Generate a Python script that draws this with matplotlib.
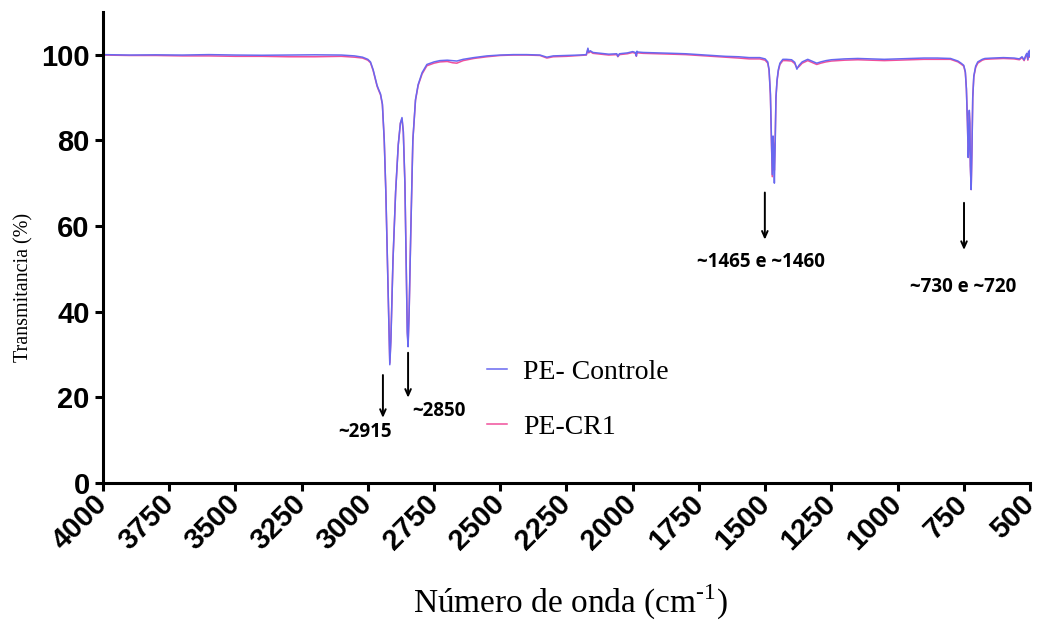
import matplotlib
matplotlib.use("Agg")
import matplotlib.pyplot as plt

plt.rcParams['mathtext.fontset'] = 'custom'
plt.rcParams['mathtext.rm'] = 'Liberation Serif'

# ---------------- data ----------------
wavenumber = [
    4000, 3900, 3800, 3700, 3600, 3500, 3400, 3300, 3200, 3100, 3050, 3020, 3000, 2990,
    2980, 2972, 2965, 2960, 2952, 2945, 2938, 2932, 2926, 2921, 2917, 2913, 2905, 2895,
    2885, 2877, 2871, 2866, 2860, 2855, 2851, 2848, 2844, 2838, 2830, 2820, 2810, 2795,
    2777, 2750, 2728, 2700, 2680, 2664, 2640, 2600, 2550, 2500, 2450, 2400, 2350, 2324,
    2300, 2250, 2200, 2175, 2169, 2166, 2160, 2150, 2120, 2090, 2060, 2056, 2050, 2020,
    2000, 1990, 1986, 1984, 1980, 1960, 1900, 1850, 1800, 1750, 1700, 1650, 1600, 1560,
    1520, 1500, 1490, 1485, 1480, 1476, 1473, 1470, 1468, 1465, 1462, 1459, 1455, 1450,
    1444, 1433, 1420, 1400, 1388, 1380, 1372, 1360, 1339, 1320, 1305, 1290, 1270, 1250,
    1200, 1150, 1100, 1050, 1000, 950, 900, 850, 800, 772, 760, 750, 744, 740, 736, 733,
    731, 729, 727, 725, 722, 719, 716, 712, 705, 697, 680, 670, 640, 600, 560, 540, 530,
    522, 516, 512, 508, 505, 502, 500]

pe_controle = [
    100.0, 99.9, 99.95, 99.9, 100.0, 99.9, 99.85, 99.9, 99.95, 99.9, 99.7, 99.4, 98.9, 98.3,
    96.5, 94.5, 92.8, 92.0, 90.8, 88.5, 80.0, 68.0, 52.0, 38.0, 27.6, 33.0, 52.0, 68.0,
    79.0, 84.0, 85.3, 82.0, 70.0, 50.0, 35.0, 31.8, 40.0, 58.0, 80.0, 89.5, 93.0, 95.8,
    97.7, 98.3, 98.6, 98.7, 98.6, 98.5, 98.9, 99.3, 99.7, 99.9, 100.0, 100.0, 99.9, 99.4,
    99.7, 99.8, 99.9, 100.0, 101.5, 100.6, 100.9, 100.5, 100.3, 100.1, 100.2, 99.6, 100.2, 100.4,
    100.7, 100.5, 99.7, 100.8, 100.6, 100.5, 100.4, 100.3, 100.2, 100.0, 99.8, 99.6, 99.5, 99.3,
    99.3, 99.0, 98.3, 96.5, 91.0, 80.0, 72.0, 81.0, 78.0, 70.0, 79.0, 90.0, 94.0, 96.5,
    98.0, 98.9, 98.9, 98.8, 98.2, 96.6, 97.5, 98.3, 98.9, 98.4, 98.0, 98.3, 98.6, 98.8,
    99.0, 99.1, 99.0, 98.9, 99.0, 99.1, 99.2, 99.2, 99.1, 98.5, 98.0, 97.5, 96.0, 92.0, 84.0, 76.0,
    79.0, 87.0, 84.0, 74.0, 68.5, 78.0, 90.0, 95.0, 97.3, 98.3, 98.9, 99.1, 99.2, 99.3, 99.2, 99.0, 99.5,
    98.8, 99.8, 100.3, 98.9, 100.8, 99.6, 101.0]

pe_cr1 = [
    99.9, 99.8, 99.8, 99.7, 99.7, 99.6, 99.6, 99.5, 99.5, 99.6, 99.4, 99.2, 98.7, 98.1,
    96.3, 94.3, 92.6, 91.8, 90.6, 88.3, 80.0, 68.0, 52.0, 38.0, 28.0, 33.5, 52.0, 68.0,
    79.0, 84.0, 85.0, 82.0, 70.0, 50.0, 35.5, 32.3, 40.0, 58.0, 80.0, 89.3, 92.8, 95.5,
    97.4, 98.0, 98.3, 98.4, 98.1, 98.0, 98.6, 99.1, 99.5, 99.8, 99.9, 99.9, 99.8, 99.2,
    99.5, 99.6, 99.8, 99.9, 101.2, 100.4, 100.7, 100.3, 100.1, 99.9, 100.0, 99.5, 100.0, 100.2,
    100.5, 100.3, 99.6, 100.5, 100.4, 100.3, 100.2, 100.1, 100.0, 99.8, 99.6, 99.4, 99.2, 99.0,
    99.0, 98.7, 98.0, 96.3, 90.5, 79.0, 71.5, 80.0, 79.0, 73.0, 80.0, 90.0, 93.8, 96.2,
    97.7, 98.6, 98.6, 98.5, 97.9, 96.9, 97.2, 98.0, 98.6, 98.1, 97.7, 98.0, 98.3, 98.5,
    98.7, 98.8, 98.7, 98.6, 98.7, 98.8, 98.9, 98.9, 98.9, 98.3, 97.8, 97.3, 95.8, 92.0, 84.0, 76.0,
    79.0, 86.5, 84.0, 74.0, 68.5, 78.0, 90.0, 94.8, 97.0, 98.0, 98.7, 98.9, 99.0, 99.1, 99.0, 98.8, 99.3,
    98.6, 99.6, 100.1, 98.7, 100.6, 99.4, 100.8]

series_labels = ['PE- Controle', 'PE-CR1']
series_colors = ['#6868F0', '#F0509B']

annotation_texts = ['~2915', '~2850', '~1465 e ~1460', '~730 e ~720']
annotation_text_xy = [(3011, 11.9), (2733, 16.7), (1514, 51.6), (751, 45.7)]
arrow_x = [2943, 2848, 1501, 749]
arrow_top = [25.2, 30.4, 67.8, 65.4]
arrow_bottom = [15.2, 19.9, 56.8, 54.4]

xticks = [4000, 3750, 3500, 3250, 3000, 2750, 2500, 2250, 2000, 1750, 1500, 1250, 1000, 750, 500]
yticks = [0, 20, 40, 60, 80, 100]

# ---------------- figure ----------------
fig = plt.figure(figsize=(10.39, 6.2), dpi=100)
ax = fig.add_axes([0.0991, 0.221, 0.8922, 0.760])

l2, = ax.plot(wavenumber, pe_cr1, color=series_colors[1], lw=1.1, label=series_labels[1])
l1, = ax.plot(wavenumber, pe_controle, color=series_colors[0], lw=1.1, label=series_labels[0])

ax.set_xlim(4000, 500)
ax.set_ylim(0, 110)
ax.set_xticks(xticks)
ax.set_yticks(yticks)

for s in ['top', 'right']:
    ax.spines[s].set_visible(False)
for s in ['left', 'bottom']:
    ax.spines[s].set_linewidth(2.2)
ax.tick_params(axis='both', direction='out', length=6, width=2.2)
ax.tick_params(axis='x', pad=6)

tick_font = dict(family='Liberation Sans', weight='bold', size=21)
ax.set_yticklabels([str(v) for v in yticks], fontdict=tick_font)
ax.set_xticklabels([str(v) for v in xticks], fontdict=tick_font,
                   rotation=45, ha='right', va='center', rotation_mode='anchor')

ax.set_ylabel('Transmitancia (%)', family='Liberation Serif', fontsize=14.5)
ax.yaxis.set_label_coords(-0.075, 0.414)
ax.set_xlabel('Número de onda (cm$^{\\text{-1}}$)', family='Liberation Serif', fontsize=24)
ax.xaxis.set_label_coords(0.504, -0.212)

leg = ax.legend(handles=[l1, l2], loc='upper left', bbox_to_anchor=(0.414, 0.262),
                frameon=False, borderpad=0, borderaxespad=0,
                prop=dict(family='Liberation Serif', size=20),
                handlelength=0.72, handletextpad=0.6, labelspacing=1.05)

for txt, (tx, ty) in zip(annotation_texts, annotation_text_xy):
    ax.text(tx, ty, txt, ha='center', va='center', family='Open Sans',
            weight='bold', fontsize=13.5, color='black')
for x, yt, yb in zip(arrow_x, arrow_top, arrow_bottom):
    ax.annotate('', xy=(x, yb), xytext=(x, yt),
                arrowprops=dict(arrowstyle='->,head_length=0.45,head_width=0.2',
                                color='black', lw=1.4, shrinkA=0, shrinkB=0))

fig.savefig('out.png', dpi=100)
